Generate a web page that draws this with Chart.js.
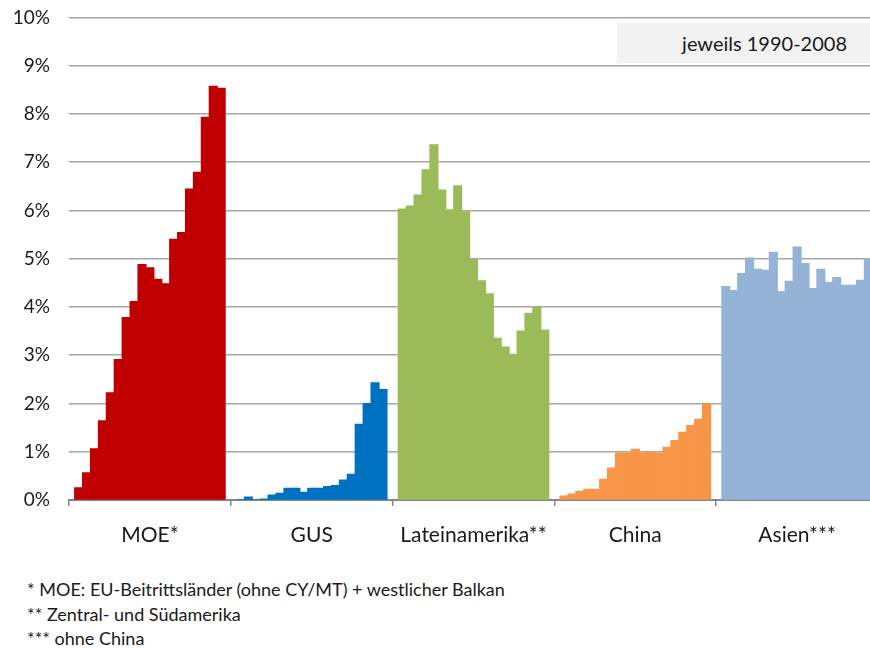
<!DOCTYPE html>
<html lang="de">
<head>
<meta charset="UTF-8">
<title>jeweils 1990-2008</title>
<script src="https://cdn.jsdelivr.net/npm/chart.js@4.4.1/dist/chart.umd.min.js"></script>
<style>
    html, body { margin: 0; padding: 0; background: #fff; overflow: hidden; }
    #wrap { position: relative; width: 870px; height: 648px; overflow: hidden; font-family: Lato, "Open Sans", sans-serif; color: #1a1a1a; }
    #chartBox { position: absolute; left: 0; top: -13px; width: 880px; height: 573px; }
    #note { position: absolute; left: 617px; top: 23px; width: 260px; height: 40px; background: #f2f2f2;
            font-size: 20px; line-height: 40px; text-align: right; box-sizing: border-box; padding-right: 30px; }
    #foot { position: absolute; left: 27px; top: 577px; font-size: 18px; line-height: 24.5px; }
</style>
</head>
<body>
<div id="wrap">
    <div id="chartBox"><canvas id="chart" width="880" height="573"></canvas></div>
    <div id="note">jeweils 1990-2008</div>
    <div id="foot">
        <div>* MOE: EU-Beitrittsländer (ohne CY/MT) + westlicher Balkan</div>
        <div>** Zentral- und Südamerika</div>
        <div>*** ohne China</div>
    </div>
</div>

<script>
// Regionen und Jahre
const regions = ['MOE*', 'GUS', 'Lateinamerika**', 'China', 'Asien***'];
const years = ['1990','1991','1992','1993','1994','1995','1996','1997','1998','1999',
               '2000','2001','2002','2003','2004','2005','2006','2007','2008'];
const regionColors = ['#C00000', '#0070C0', '#9BBB59', '#F79646', '#95B3D7'];

// Anteile in %, je Region 1990-2008
const moe    = [0.25, 0.56, 1.06, 1.64, 2.22, 2.91, 3.78, 4.11, 4.88, 4.81, 4.57, 4.48, 5.40, 5.54, 6.44, 6.79, 7.93, 8.57, 8.53];
const gus    = [0, 0.06, 0, 0.02, 0.10, 0.14, 0.24, 0.24, 0.16, 0.24, 0.24, 0.28, 0.30, 0.41, 0.53, 1.57, 2.00, 2.43, 2.29];
const latam  = [6.03, 6.09, 6.32, 6.84, 7.36, 6.42, 6.01, 6.51, 5.97, 4.98, 4.54, 4.27, 3.35, 3.17, 3.02, 3.50, 3.87, 4.00, 3.52];
const china  = [0.08, 0.12, 0.18, 0.22, 0.22, 0.43, 0.66, 0.97, 0.97, 1.05, 0.97, 0.99, 0.97, 1.09, 1.23, 1.40, 1.54, 1.67, 1.99];
const asien  = [4.42, 4.34, 4.69, 5.01, 4.78, 4.76, 5.13, 4.32, 4.53, 5.24, 4.90, 4.38, 4.78, 4.51, 4.61, 4.45, 4.45, 4.55, 4.99];

const yTicks = [0, 1, 2, 3, 4, 5, 6, 7, 8, 9, 10];

const series = [moe, gus, latam, china, asien];

// ein Datensatz pro Jahr, Farbe je Region
const datasets = years.map((y, i) => ({
    label: y,
    data: series.map(s => s[i]),
    backgroundColor: regionColors,
    borderWidth: 0,
    inflateAmount: 0.6,
    categoryPercentage: 0.93,
    barPercentage: 1.0
}));

new Chart(document.getElementById('chart').getContext('2d'), {
    type: 'bar',
    data: { labels: regions, datasets: datasets },
    options: {
        responsive: false,
        animation: false,
        layout: { padding: { top: 3, left: 0, right: 2, bottom: 0 } },
        plugins: { legend: { display: false }, tooltip: { enabled: false } },
        scales: {
            x: {
                grid: { drawOnChartArea: false, drawTicks: true, tickLength: 6, color: '#878787', lineWidth: 1.5 },
                border: { display: true, color: '#878787', width: 2 },
                ticks: { color: '#1a1a1a', padding: 17, font: { family: 'Lato', size: 21 } },
                afterFit: s => { s.height = 60; }
            },
            y: {
                min: 0, max: 10,
                afterBuildTicks: s => { s.ticks = yTicks.map(v => ({ value: v })); },
                grid: { color: '#a6a6a6', lineWidth: 1.5, drawTicks: false },
                border: { display: false },
                ticks: { color: '#1a1a1a', padding: 19, font: { family: 'Lato', size: 19 }, callback: v => v + '%' },
                afterFit: s => { s.width = 69; }
            }
        }
    }
});
</script>
</body>
</html>
